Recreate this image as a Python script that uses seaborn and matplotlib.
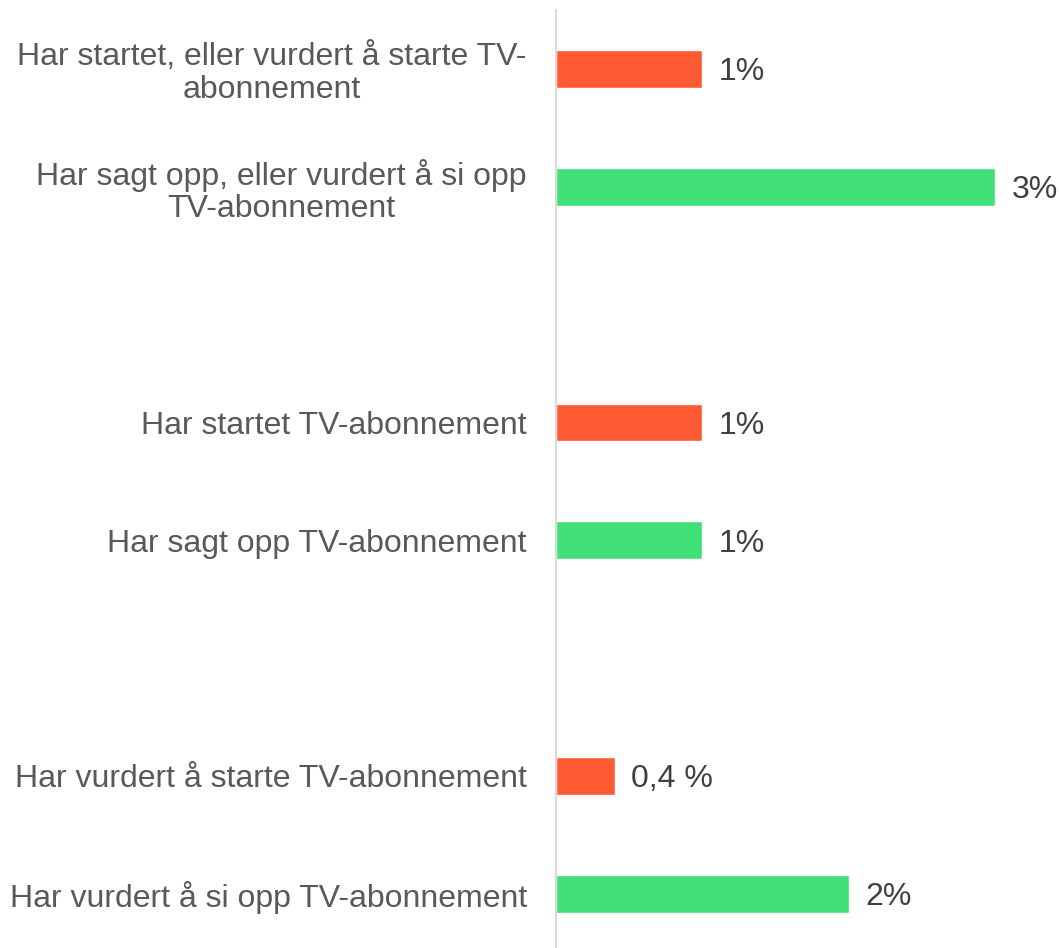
import matplotlib
matplotlib.use("Agg")
import matplotlib.pyplot as plt
import seaborn as sns
import pandas as pd

categories = [
    "Har startet, eller vurdert å starte TV-\nabonnement",
    "Har sagt opp, eller vurdert å si opp\nTV-abonnement",
    "Har startet TV-abonnement",
    "Har sagt opp TV-abonnement",
    "Har vurdert å starte TV-abonnement",
    "Har vurdert å si opp TV-abonnement",
]
values = [1, 3, 1, 1, 0.4, 2]
kinds = ["start", "stopp", "start", "stopp", "start", "stopp"]
value_labels = ["1%", "3%", "1%", "1%", "0,4 %", "2%"]

gaps = ["_gap1", "_gap2"]
order = [categories[0], categories[1], gaps[0], categories[2], categories[3],
         gaps[1], categories[4], categories[5]]

palette = {"start": "#FF5A33", "stopp": "#41DF78"}

df = pd.DataFrame({"cat": categories, "val": values, "kind": kinds})

sns.set_theme(style="white")
plt.rcParams["font.family"] = ["Liberation Sans", "DejaVu Sans"]

fig = plt.figure(figsize=(10.59, 9.48), dpi=100)
W, H = 1059, 948
ax = fig.add_axes([556 / W, 0, (W - 556) / W, (H - 10) / H])

sns.barplot(data=df, y="cat", x="val", hue="kind", order=order,
            palette=palette, dodge=False, legend=False, width=0.32,
            saturation=1, ax=ax)

px_per_unit = 146.3
ax.set_xlim(0, (W - 556) / px_per_unit)
ax.set_ylim(7.46, -0.5)

# value labels
bars = [p for p in ax.patches if p.get_width() > 0]
bars.sort(key=lambda p: p.get_y())
for p, lab in zip(bars, value_labels):
    ax.annotate(lab, (p.get_width(), p.get_y() + p.get_height() / 2),
                xytext=(12, 0), textcoords="offset points",
                va="center_baseline", ha="left", fontsize=23, color="#404040")

ticklabels = ["" if o in gaps else o for o in order]
ax.set_yticks(range(len(order)))
ax.set_yticklabels(ticklabels, fontsize=23, color="#595959",
                   multialignment="center", linespacing=1.1)
ax.tick_params(axis="y", length=0, pad=21)
ax.set_xticks([])
ax.set_xlabel("")
ax.set_ylabel("")

for s in ["top", "right", "bottom"]:
    ax.spines[s].set_visible(False)
ax.spines["left"].set_color("#D9D9D9")
ax.spines["left"].set_linewidth(1.5)

fig.savefig("out.png", dpi=100)
